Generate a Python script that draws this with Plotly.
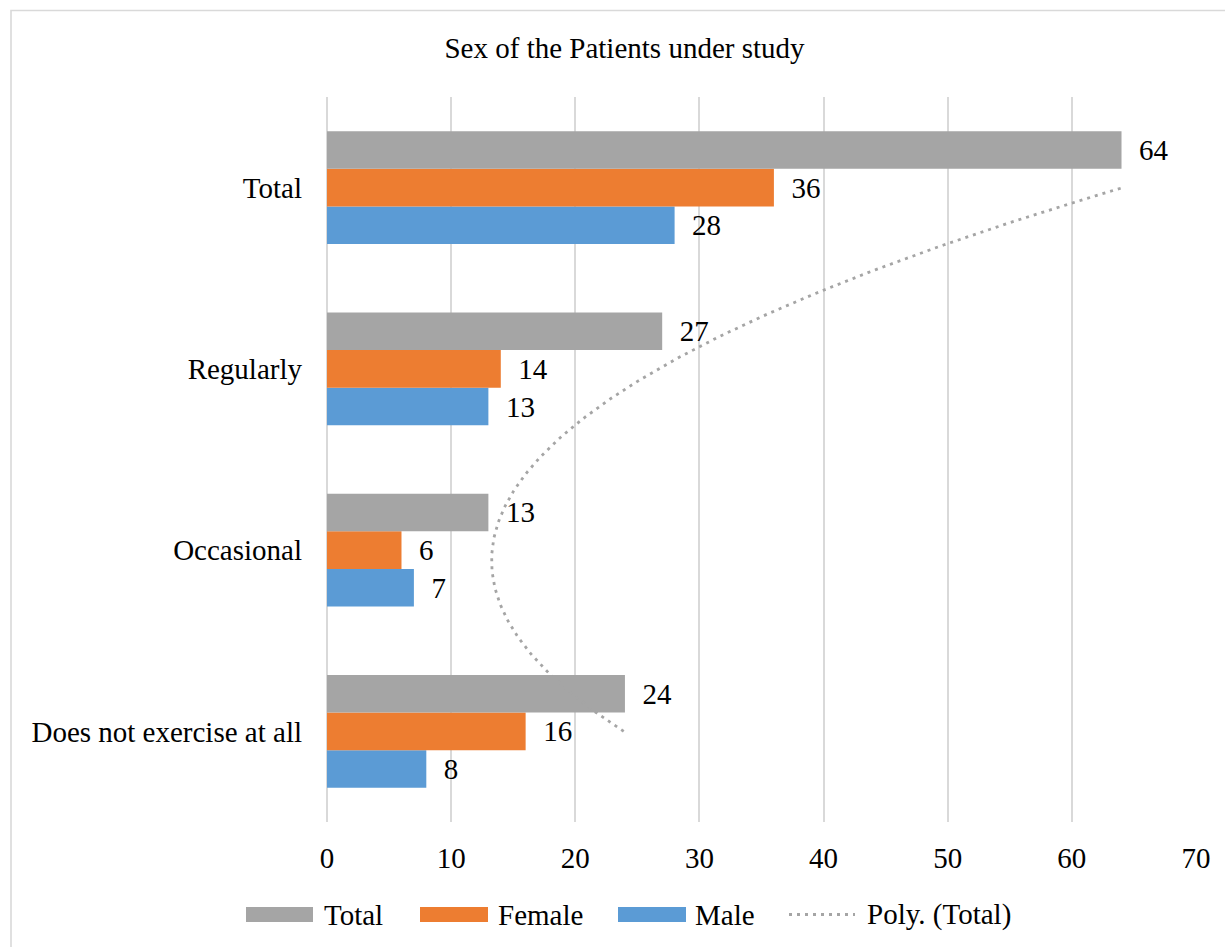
import numpy as np
import plotly.graph_objects as go

# Categories listed bottom-up, as the bar axis runs upward
categories = ["Does not exercise at all", "Occasional", "Regularly", "Total"]
total = [24, 13, 27, 64]
female = [16, 6, 14, 36]
male = [8, 7, 13, 28]

colors = {"Total": "#a5a5a5", "Female": "#ed7d31", "Male": "#5b9bd5"}
trend_color = "#a5a5a5"
grid_color = "#d9d9d9"
trend_dash = "3px,5px"
FONT = "Liberation Serif, Times New Roman, serif"
FS = 29

pos = np.arange(len(categories))

fig = go.Figure()

# Grouped bars: first trace sits lowest in each group
for name, vals in [("Male", male), ("Female", female), ("Total", total)]:
    fig.add_trace(go.Bar(
        y=pos, x=vals, orientation="h", name=name,
        marker=dict(color=colors[name], line=dict(width=0)),
        text=vals, texttemplate="\u00a0\u00a0%{x}", textposition="outside",
        textfont=dict(family=FONT, size=FS, color="#000000"),
        constraintext="none", cliponaxis=False, showlegend=False,
    ))

# Second-order polynomial trendline fitted to the Total series
coef = np.polyfit(pos + 1, total, 2)
yy = np.linspace(pos[0], pos[-1], 200)
xx = np.polyval(coef, yy + 1)
fig.add_trace(go.Scatter(
    x=xx, y=yy, mode="lines", name="Poly. (Total)",
    line=dict(color=trend_color, width=2.8, dash=trend_dash),
    showlegend=False, cliponaxis=False,
))

W, H = 1225, 947
L, R, T, B = 327, 1196, 97, 822
pw, ph = R - L, B - T


def px(x):
    return (x - L) / pw


def py(y):
    return (B - y) / ph


shapes = []
annotations = []

# Outer frame of the chart area
shapes.append(dict(type="rect", xref="paper", yref="paper",
                   x0=px(11), x1=px(1240), y0=py(10.5), y1=py(960),
                   line=dict(color=grid_color, width=1.6), fillcolor="rgba(0,0,0,0)",
                   layer="below"))

# Legend drawn below the axis
legend_y = 914.5
legend_items = [
    ("Total", "bar", 246, 313, 322),
    ("Female", "bar", 420, 488, 496),
    ("Male", "bar", 618, 686, 693),
    ("Poly. (Total)", "dot", 789, 855, 865),
]
for label, kind, x0, x1, tx in legend_items:
    if kind == "bar":
        shapes.append(dict(type="rect", xref="paper", yref="paper",
                           x0=px(x0), x1=px(x1), y0=py(legend_y + 7.5), y1=py(legend_y - 7.5),
                           fillcolor=colors[label], line=dict(width=0)))
    else:
        shapes.append(dict(type="line", xref="paper", yref="paper",
                           x0=px(x0), x1=px(x1), y0=py(legend_y), y1=py(legend_y),
                           line=dict(color=trend_color, width=2.8, dash=trend_dash)))
    annotations.append(dict(text=label, xref="paper", yref="paper",
                            x=px(tx), y=py(legend_y), xanchor="left", yanchor="middle",
                            showarrow=False, font=dict(family=FONT, size=FS, color="#000000")))

fig.update_layout(
    width=W, height=H,
    margin=dict(l=L, r=W - R, t=T, b=H - B, pad=0),
    paper_bgcolor="#ffffff", plot_bgcolor="#ffffff",
    barmode="group", bargap=0.377, bargroupgap=0,
    title=dict(text="Sex of the Patients under study",
               x=624.5 / W, xref="container", xanchor="center",
               y=1 - 48 / H, yref="container", yanchor="middle",
               font=dict(family=FONT, size=FS, color="#000000")),
    xaxis=dict(range=[0, 70], dtick=10, showgrid=True, gridcolor=grid_color, gridwidth=1.5,
               zeroline=True, zerolinecolor=grid_color, zerolinewidth=1.5,
               showline=False, ticks="",
               tickfont=dict(family=FONT, size=FS, color="#000000"),
               ticklabelstandoff=16),
    yaxis=dict(range=[-0.5, 3.5], tickmode="array", tickvals=list(pos), ticktext=categories,
               showgrid=False, zeroline=False, showline=False, ticks="",
               tickfont=dict(family=FONT, size=FS, color="#000000"),
               ticklabelstandoff=24),
    shapes=shapes, annotations=annotations,
    showlegend=False,
)

fig.write_html("out.html")
